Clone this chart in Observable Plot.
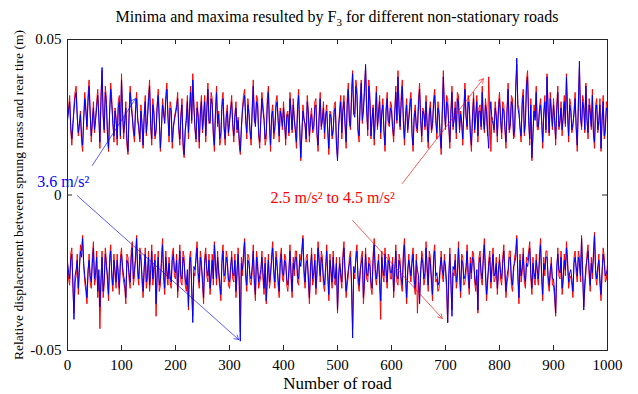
<!DOCTYPE html>
<html><head><meta charset="utf-8">
<script src="https://cdn.jsdelivr.net/npm/d3@7"></script>
<script src="https://cdn.jsdelivr.net/npm/@observablehq/plot@0.6"></script>
<style>
html,body{margin:0;padding:0;background:#fff;}
#wrap{position:relative;width:638px;height:394px;font-family:"Liberation Serif","Times New Roman",serif;}
#title{position:absolute;top:9px;left:67px;width:540px;text-align:center;font-size:16px;line-height:16px;color:#000;white-space:nowrap;}
#title sub{font-size:11px;vertical-align:-4px;line-height:0;}
svg{display:block;}
</style></head><body>
<div id="wrap"><div id="chart"></div><div id="title">Minima and maxima resulted by F<sub>3</sub> for different non-stationary roads</div></div>
<script>
// sample roads: set A at 0,4,8,...,1000 and set B at 2,6,10,...,998
const roadsA = d3.range(0, 1001, 4);
const roadsB = d3.range(2, 1000, 4);
// values in thousandths of a metre
const upperRedA = [25,32,16,29,35,19,27,14,33,21,37,17,30,25,34,15,40,20,31,14,36,24,28,16,32,
39,18,30,13,35,26,17,33,21,29,15,32,25,37,16,27,20,34,14,31,24,36,17,28,21,
27,33,16,31,12,25,18,35,39,21,30,15,32,26,17,36,24,31,14,35,27,18,33,16,29,
24,32,17,30,25,13,28,34,18,27,16,37,23,31,15,33,25,18,35,14,29,21,32,17,26,
30,16,27,33,20,25,15,34,11,29,22,32,17,28,21,31,14,33,25,18,29,13,26,20,30,
12,28,18,32,15,36,21,40,26,34,17,37,28,41,19,32,25,16,35,27,18,31,14,33,22,
29,17,35,40,21,37,16,31,25,33,14,29,20,36,17,27,32,15,30,22,34,18,27,13,40,
21,31,15,35,25,18,32,27,16,36,21,30,14,33,26,17,29,35,20,27,38,14,24,30,17,
33,18,29,15,36,22,31,19,42,28,17,34,23,40,16,11,29,35,21,31,15,32,39,19,28,
31,16,35,23,19,32,39,17,29,22,33,14,41,21,30,36,18,28,34,15,31,23,14,32,20,29];
const upperRedB = [28,21,22,33,26,22,17,25,28,32,27,23,20,30,26,32,25,35,19,27,31,17,25,30,18,
27,23,16,26,30,20,28,25,17,22,26,19,32,22,31,18,29,25,21,27,32,26,30,15,25,
29,21,26,15,20,32,28,23,30,17,26,27,20,32,28,23,33,19,27,22,16,30,21,26,19,
28,22,26,20,16,21,32,25,31,20,28,24,32,19,25,29,16,31,22,26,18,30,25,28,21,
24,26,19,27,31,20,29,21,19,25,17,27,25,20,30,19,26,21,30,26,20,27,18,29,16,
21,32,28,22,31,23,33,27,37,20,31,23,35,28,37,18,29,26,21,32,27,20,28,23,30,
21,27,23,29,32,23,26,20,30,19,26,21,31,25,28,21,22,27,20,31,25,30,19,27,28,
32,22,27,21,30,33,20,24,28,26,32,19,26,20,32,28,21,25,31,19,27,25,20,26,29,
25,30,21,28,20,32,18,35,29,21,31,19,37,25,31,19,25,21,28,25,27,20,28,33,21,
25,29,21,30,26,22,27,31,20,27,21,30,26,32,20,25,31,21,19,29,20,31,25,18,30];
const upperBlueA = [24,30,18,27,33,20,26,16,31,22,35,19,28,24,32,17,41,21,29,15,34,23,27,18,30,
37,20,28,14,33,25,19,31,22,27,16,30,24,35,18,26,21,32,15,29,23,34,19,27,22,
26,31,18,29,13,24,20,33,37,22,28,17,30,25,19,34,23,29,16,33,26,20,31,18,27,
23,30,19,28,24,14,27,32,20,26,18,35,22,29,17,31,24,20,33,16,27,22,30,19,25,
28,18,26,31,21,24,17,32,12,27,23,30,19,26,22,29,16,31,24,20,27,15,25,21,28,
11,26,20,30,17,34,22,39,25,32,19,36,27,42,21,30,24,18,33,26,20,29,16,31,23,
27,19,33,38,22,35,18,29,24,31,16,27,21,34,19,26,30,17,28,23,32,20,26,15,38,
22,29,17,33,24,20,30,26,18,34,22,28,16,31,25,19,27,33,21,26,15,30,23,28,19,
31,20,27,17,34,23,29,21,44,26,19,32,24,38,18,12,27,33,22,29,17,30,38,20,26,
29,18,33,24,21,30,38,19,27,23,31,16,43,22,28,35,20,26,32,17,29,24,15,30,22,27];
const upperBlueB = [27,22,23,31,25,23,19,24,27,30,26,24,21,28,25,30,26,33,20,26,29,19,24,28,19,
26,24,18,25,28,21,27,24,18,23,25,20,30,23,29,19,28,24,22,26,30,25,28,17,24,
28,22,25,17,21,30,27,24,28,18,25,26,21,30,27,24,31,20,26,23,18,28,22,25,20,
27,23,25,21,18,22,30,24,29,21,27,25,30,20,24,27,18,29,23,25,20,28,24,27,22,
23,25,20,26,29,21,27,22,20,24,18,26,24,21,28,20,25,22,28,25,21,26,19,27,17,
22,30,27,23,29,24,31,26,35,21,29,24,33,27,35,19,28,25,22,30,26,21,27,24,28,
22,26,24,27,30,24,25,21,28,20,25,22,29,24,27,22,23,26,21,29,24,28,20,26,27,
30,23,26,22,28,31,21,23,27,25,30,20,25,21,30,27,22,24,29,20,26,24,21,25,27,
24,28,22,27,21,30,19,33,28,22,29,20,35,24,29,20,24,22,27,24,26,21,27,31,22,
24,27,22,28,25,23,26,29,21,26,22,28,25,30,21,24,29,22,20,27,21,29,24,19,28];
const lowerRedA = [-21,-29,-17,-38,-26,-32,-16,-13,-28,-35,-19,-30,-15,-27,-33,-43,-18,-29,-21,-34,-16,-31,-26,-19,-32,
-17,-28,-35,-20,-30,-15,-26,-13,-29,-19,-33,-17,-27,-31,-16,-25,-39,-18,-29,-14,-32,-26,-20,-30,-17,
-27,-33,-16,-29,-20,-31,-37,-18,-39,-26,-15,-30,-21,-35,-17,-28,-32,-19,-15,-29,-26,-34,-16,-27,-20,
-30,-18,-28,-33,-17,-44,-26,-14,-31,-20,-29,-16,-34,-21,-28,-18,-32,-35,-19,-27,-15,-30,-21,-33,-17,
-28,-20,-31,-16,-33,-26,-18,-29,-21,-13,-30,-19,-35,-17,-27,-32,-15,-28,-20,-31,-16,-34,-26,-18,-29,
-38,-20,-30,-15,-33,-26,-18,-43,-27,-16,-31,-20,-35,-17,-28,-21,-32,-14,-29,-19,-40,-26,-17,-30,-20,
-27,-33,-16,-29,-21,-31,-14,-35,-19,-28,-17,-32,-38,-33,-18,-29,-15,-31,-20,-34,-16,-27,-30,-18,-28,
-25,-41,-17,-37,-26,-30,-15,-33,-20,-28,-16,-32,-27,-19,-31,-38,-18,-29,-14,-34,-21,-30,-17,-27,-32,
-19,-29,-16,-33,-26,-18,-31,-20,-13,-35,-28,-17,-30,-21,-15,-32,-27,-19,-29,-14,-34,-26,-18,-31,-20,
-29,-39,-17,-27,-32,-19,-15,-30,-26,-33,-18,-28,-20,-13,-36,-25,-16,-31,-27,-12,-29,-19,-34,-17,-28,-22];
const lowerRedB = [-27,-19,-30,-28,-19,-25,-18,-23,-31,-26,-28,-20,-29,-18,-26,-29,-33,-17,-28,-20,-27,-19,-30,-27,-20,
-25,-30,-19,-27,-18,-29,-19,-26,-17,-28,-25,-30,-18,-26,-29,-19,-27,-31,-20,-27,-18,-29,-28,-19,-26,
-19,-26,-28,-18,-29,-26,-20,-31,-25,-19,-27,-18,-29,-20,-26,-19,-27,-29,-21,-18,-30,-20,-28,-18,-29,
-25,-27,-19,-26,-29,-20,-18,-27,-19,-28,-25,-29,-18,-30,-26,-27,-20,-28,-30,-19,-26,-18,-29,-20,-27,
-19,-29,-26,-27,-20,-18,-28,-19,-17,-26,-20,-28,-25,-29,-19,-26,-20,-18,-29,-25,-27,-19,-30,-28,-20,
-28,-27,-19,-26,-29,-20,-30,-25,-19,-28,-26,-18,-29,-27,-20,-30,-19,-26,-25,-29,-18,-28,-26,-19,-27,
-20,-26,-28,-19,-29,-18,-27,-26,-25,-20,-29,-19,-28,-26,-20,-27,-25,-18,-29,-19,-28,-31,-25,-26,-19,
-30,-28,-29,-25,-19,-27,-26,-19,-29,-25,-27,-20,-18,-28,-26,-20,-27,-19,-26,-29,-18,-25,-28,-20,-26,
-27,-20,-26,-28,-18,-29,-25,-18,-27,-19,-25,-28,-20,-18,-27,-20,-29,-26,-19,-27,-20,-18,-28,-26,-29,
-33,-25,-26,-18,-28,-26,-20,-27,-29,-20,-25,-18,-28,-26,-30,-19,-26,-20,-18,-26,-25,-29,-26,-20,-27];
const lowerBlueA = [-22,-27,-19,-40,-24,-30,-18,-14,-26,-33,-21,-28,-17,-25,-31,-36,-20,-27,-23,-32,-18,-29,-24,-21,-30,
-19,-26,-33,-22,-28,-17,-24,-14,-27,-21,-31,-19,-25,-29,-18,-23,-35,-20,-27,-16,-30,-24,-22,-28,-19,
-25,-31,-18,-27,-22,-29,-36,-20,-41,-24,-17,-28,-23,-33,-19,-26,-30,-21,-16,-27,-24,-32,-18,-25,-22,
-28,-20,-26,-31,-19,-47,-24,-15,-29,-22,-27,-18,-32,-23,-26,-20,-30,-34,-21,-25,-17,-28,-23,-31,-19,
-26,-22,-29,-18,-31,-24,-20,-27,-23,-14,-28,-21,-33,-19,-25,-30,-17,-26,-22,-29,-18,-32,-24,-20,-27,
-37,-22,-28,-17,-31,-24,-20,-46,-25,-18,-29,-22,-33,-19,-26,-23,-30,-16,-27,-21,-34,-24,-19,-28,-22,
-25,-31,-18,-27,-23,-29,-16,-33,-21,-26,-19,-30,-24,-35,-20,-27,-17,-29,-22,-32,-18,-25,-28,-20,-26,
-23,-41,-19,-39,-24,-28,-17,-31,-22,-26,-18,-30,-25,-21,-29,-37,-20,-27,-16,-32,-23,-28,-19,-25,-30,
-21,-27,-18,-31,-24,-20,-29,-22,-14,-33,-26,-19,-28,-23,-17,-30,-25,-21,-27,-16,-32,-24,-20,-29,-22,
-27,-38,-19,-25,-30,-21,-17,-28,-24,-31,-20,-26,-22,-14,-37,-23,-18,-29,-25,-13,-27,-21,-32,-19,-26,-24];
const lowerBlueB = [-25,-21,-28,-26,-21,-23,-20,-22,-29,-24,-26,-22,-27,-20,-24,-27,-31,-19,-26,-22,-25,-21,-28,-25,-22,
-23,-28,-21,-25,-20,-27,-21,-24,-19,-26,-23,-28,-20,-24,-27,-21,-25,-29,-22,-25,-20,-27,-26,-21,-24,
-21,-24,-26,-20,-27,-24,-22,-29,-23,-21,-25,-20,-27,-22,-24,-21,-25,-27,-23,-20,-28,-22,-26,-20,-27,
-23,-25,-21,-24,-27,-22,-20,-25,-21,-26,-23,-27,-20,-28,-24,-25,-22,-26,-28,-21,-24,-20,-27,-22,-25,
-21,-27,-24,-25,-22,-20,-26,-21,-19,-24,-22,-26,-23,-27,-21,-24,-22,-20,-27,-23,-25,-21,-28,-26,-22,
-26,-25,-21,-24,-27,-22,-28,-23,-21,-26,-24,-20,-27,-25,-22,-28,-21,-24,-23,-27,-20,-26,-24,-21,-25,
-22,-24,-26,-21,-27,-20,-25,-24,-23,-22,-27,-21,-26,-24,-22,-25,-23,-20,-27,-21,-26,-29,-23,-24,-21,
-28,-26,-27,-23,-21,-25,-24,-21,-27,-23,-25,-22,-20,-26,-24,-22,-25,-21,-24,-27,-20,-23,-26,-22,-24,
-25,-22,-24,-26,-20,-27,-23,-20,-25,-21,-23,-26,-22,-20,-25,-22,-27,-24,-21,-25,-22,-20,-26,-24,-27,
-31,-23,-24,-20,-26,-24,-22,-25,-27,-22,-23,-20,-26,-24,-28,-21,-24,-22,-20,-24,-23,-27,-24,-22,-25];

const xTicks = [0,100,200,300,400,500,600,700,800,900,1000];
const yTicks = [-0.05, 0, 0.05];
const yTickLabels = ["-0.05", "0", "0.05"];
const xLabel = "Number of road";
const yLabel = "Relative displacement between sprung mass and rear tire (m)";

const arrows = [
  {x1: 46, y1: 0.0095, x2: 126, y2: 0.031, color: "#0000ff"},
  {x1: 18, y1: -0.0002, x2: 317, y2: -0.0465, color: "#0000ff"},
  {x1: 620, y1: 0.0037, x2: 770, y2: 0.0374, color: "#ff0000"},
  {x1: 528, y1: -0.0082, x2: 694, y2: -0.0397, color: "#ff0000"}
];
const notes = [
  {x: -56, y: 0.0042, text: "3.6 m/s²", color: "#0000ff"},
  {x: 376, y: -0.0008, text: "2.5 m/s² to 4.5 m/s²", color: "#ff0000"}
];

const W = 638, H = 394, mL = 67, mR = 31, mT = 39, mB = 44;
const pw = W - mL - mR, ph = H - mT - mB;
function series(a, b) {
  const rows = [];
  a.forEach((v, i) => { if (roadsA[i] !== undefined) rows.push({road: roadsA[i], value: v / 1000}); });
  b.forEach((v, i) => { if (roadsB[i] !== undefined) rows.push({road: roadsB[i], value: v / 1000}); });
  return rows.sort((p, q) => p.road - q.road);
}
const axisColor = "#262626";
const font = '"Liberation Serif","Times New Roman",serif';

const chart = Plot.plot({
  width: W, height: H,
  marginLeft: mL, marginRight: mR, marginTop: mT, marginBottom: mB,
  style: {fontFamily: font, fontSize: "15px", color: "#000", background: "#fff"},
  x: {domain: [0, 1000]},
  y: {domain: [-0.05, 0.05]},
  color: {type: "identity"},
  marks: [
    Plot.lineY(series(upperRedA, upperRedB), {x: "road", y: "value", stroke: "#ff0000", strokeWidth: 1}),
    Plot.lineY(series(lowerRedA, lowerRedB), {x: "road", y: "value", stroke: "#ff0000", strokeWidth: 1}),
    Plot.lineY(series(upperBlueA, upperBlueB), {x: "road", y: "value", stroke: "#0000ff", strokeWidth: 1}),
    Plot.lineY(series(lowerBlueA, lowerBlueB), {x: "road", y: "value", stroke: "#0000ff", strokeWidth: 1}),
    Plot.arrow(arrows, {x1: "x1", y1: "y1", x2: "x2", y2: "y2", stroke: "color", strokeWidth: 0.8, strokeOpacity: 0.8, headLength: 9}),
    Plot.text(notes, {x: "x", y: "y", text: "text", fill: "color", textAnchor: "start", fontSize: 16}),
    Plot.frame({stroke: axisColor, strokeWidth: 1}),
    Plot.tickX(xTicks, {x: d => d, insetTop: ph - 5, stroke: axisColor}),
    Plot.tickX(xTicks, {x: d => d, insetBottom: ph - 5, stroke: axisColor}),
    Plot.tickY(yTicks, {y: d => d, insetRight: pw - 5, stroke: axisColor}),
    Plot.tickY(yTicks, {y: d => d, insetLeft: pw - 5, stroke: axisColor}),
    Plot.axisX({ticks: xTicks, tickSize: 0, tickPadding: 9, label: null, fontSize: 15, tickFormat: d => String(d)}),
    Plot.axisY({ticks: yTicks, tickSize: 0, tickPadding: 6, label: null, fontSize: 15, tickFormat: d => yTickLabels[yTicks.indexOf(d)]}),
    Plot.text([xLabel], {frameAnchor: "bottom", dy: 33, lineAnchor: "middle", text: d => d, fontSize: 17, fill: "#000"}),
    Plot.text([yLabel], {frameAnchor: "left", dx: -49, rotate: -90, textAnchor: "middle", lineAnchor: "middle", text: d => d, fontSize: 13.5, fill: "#000"})
  ]
});
document.getElementById("chart").appendChild(chart);
</script>
</body></html>
